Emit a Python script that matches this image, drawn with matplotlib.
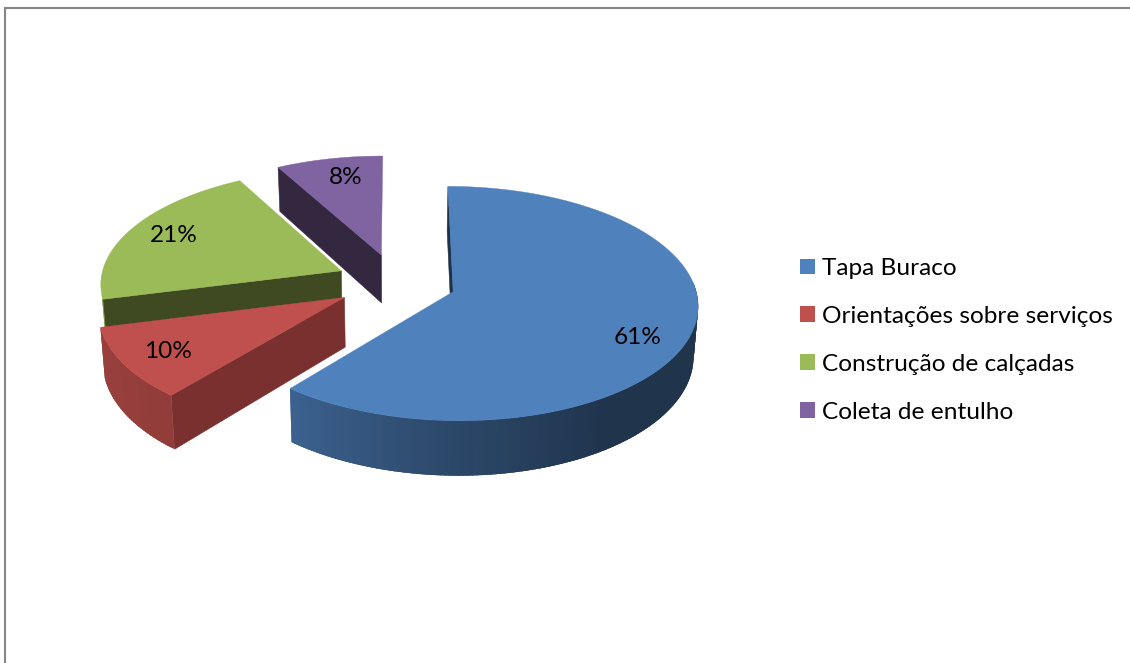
import numpy as np
import matplotlib
matplotlib.use("Agg")
import matplotlib.pyplot as plt
from matplotlib.patches import Polygon, Patch

categories = ["Tapa Buraco", "Orientações sobre serviços", "Construção de calçadas", "Coleta de entulho"]
values = [61, 10, 21, 8]

top_colors = ["#4F81BD", "#C0504D", "#9BBB59", "#8064A2"]
face_colors = ["#1F3249", "#7A302E", "#3F4A22", "#33283F"]
label_pos = [(638, 337), (168, 351), (174, 236), (346, 178)]

# layout of the exploded perspective pie, in pixels
CX, CY, RX, RY = 396.0, 282.0, 241.0, 114.0
PERSP, EXPLODE, DEPTH, BOTTOM_SCALE = 0.10, 0.25, 49.0, 0.985
WALL_FROM, WALL_TO = 85, 258
SHADE_A = [90, 145, 180, 220, 255, 270]
SHADE_F = [0.40, 0.40, 0.55, 0.76, 0.80, 0.80]
FONT_SIZE = 17.6

plt.rcParams["font.family"] = ["Lato", "DejaVu Sans"]
fig = plt.figure(figsize=(11.3, 6.63), dpi=100, facecolor="white")
ax = fig.add_axes([0, 0, 1, 1])
ax.set_xlim(0, 1130)
ax.set_ylim(663, 0)
ax.axis("off")

ax.plot([4.5, 4.5, 1130], [663, 7.5, 7.5], color="#868686", lw=1.5, solid_joinstyle="miter")


def project(x, y, low=False):
    w = 1.0 / (1.0 - PERSP * y)
    sx = CX + RX * x * w
    sy = CY + RY * y * w
    if low:
        sx = CX + (sx - CX) * BOTTOM_SCALE
        sy = sy + DEPTH * w
    return sx, sy


def shade(color, f):
    rgb = np.array(matplotlib.colors.to_rgb(color))
    return tuple(rgb * f)


def draw_slice(a0, a1, top, face):
    mid = np.radians((a0 + a1) / 2)
    ox, oy = EXPLODE * np.sin(mid), -EXPLODE * np.cos(mid)

    def rim(a, low=False):
        r = np.radians(a)
        return project(ox + np.sin(r), oy - np.cos(r), low)

    apex, apex_low = project(ox, oy), project(ox, oy, True)
    # radial side that faces the viewer
    if np.sin(np.radians(a0)) < 1e-9:
        ax.add_patch(Polygon([apex, rim(a0), rim(a0, True), apex_low], closed=True,
                             fc=face, ec=face, lw=0.4))
    # outer wall, shaded along the arc; each piece overlaps the next to hide seams
    lo, hi = max(a0, WALL_FROM), min(a1, WALL_TO)
    if hi > lo:
        edges = np.linspace(lo, hi, int(hi - lo) + 2)
        step = edges[1] - edges[0]
        for s, e in zip(edges[:-1], edges[1:]):
            c = shade(top, np.interp((s + e) / 2, SHADE_A, SHADE_F))
            stop = min(e + 1.5 * step, hi)
            quad = [rim(a) for a in (s, e, stop)] + [rim(a, True) for a in (stop, e, s)]
            ax.add_patch(Polygon(quad, closed=True, fc=c, ec="none", lw=0))
    arc = [rim(a) for a in np.linspace(a0, a1, 120)]
    ax.add_patch(Polygon([apex] + arc, closed=True, fc=top, ec=top, lw=0.3))


total = sum(values)
ends = np.cumsum(values) / total * 360
starts = np.concatenate([[0], ends[:-1]])
for i in [3, 2, 1, 0]:
    draw_slice(starts[i], ends[i], top_colors[i], face_colors[i])

for v, (x, y) in zip(values, label_pos):
    ax.text(x, y, f"{v}%", ha="center", va="center", fontsize=FONT_SIZE, color="black")

handles = [Patch(fc=c, ec=c, lw=0) for c in top_colors]
ax.legend(handles, categories, loc="upper left", bbox_to_anchor=(800 / 1130, 1 - 258 / 663),
          frameon=False, fontsize=FONT_SIZE, borderpad=0, borderaxespad=0,
          handlelength=0.615, handleheight=0.615, handletextpad=0.29, labelspacing=1.10)

fig.savefig("out.png", dpi=100, facecolor="white")
